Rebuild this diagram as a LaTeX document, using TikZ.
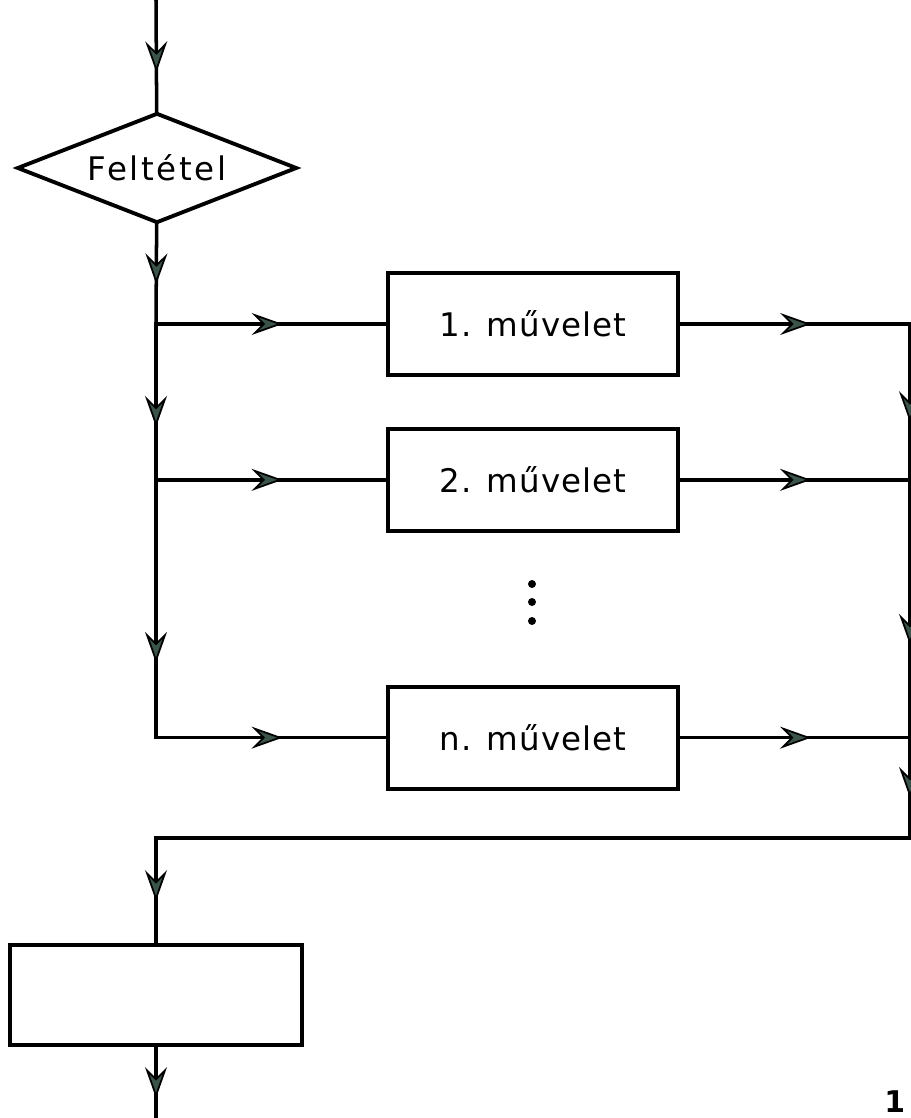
\documentclass[tikz,border=0pt]{standalone}
\usepackage{fontspec}
\newfontfamily\labelfont[LetterSpace=3]{DejaVu Sans}
\usetikzlibrary{positioning,shapes.geometric,arrows.meta,decorations.markings}
\definecolor{flowgreen}{RGB}{58,84,74}
\begin{document}
\begin{tikzpicture}[
  x=0.02cm, y=-0.02cm,
  line width=2pt, line cap=rect,
  block/.style={rectangle, draw, line width=2.2pt, minimum width=5.8cm, minimum height=2.04cm, font=\labelfont\fontsize{18.5}{22}\selectfont},
  decision/.style={diamond, draw, line width=2.2pt, aspect=2.5, minimum width=5.6cm, minimum height=2.2cm, inner sep=0pt, font=\labelfont\addfontfeature{LetterSpace=8}\fontsize{18.5}{22}\selectfont},
  flow/.style={postaction={decorate}, decoration={markings, mark=at position #1 with {\arrow{Stealth[length=6.2mm, width=4.4mm, inset=2.2mm, fill=flowgreen, line width=1pt]}}}},
  node distance=1cm
]
\useasboundingbox (0,0) rectangle (911,1118);

% Condition
\coordinate (top) at (156,0);
\node[decision] (cond) at (157,168) {Feltétel};

% Branches
\node[block] (op1) at (533,324) {1. művelet};
\node[block, below=of op1] (op2) {2. művelet};
\node[block, below=3.04cm of op2] (opn) {n. művelet};
\foreach \y in {584,602,621} \fill (532,\y) circle (4);

% Junctions
\coordinate (j1) at (156,324);
\coordinate (j2) at (j1 |- op2);
\coordinate (j3) at (j1 |- opn);
\coordinate (k1) at (910,324);
\coordinate (k2) at (k1 |- op2);
\coordinate (k3) at (k1 |- opn);
\coordinate (k4) at (910,838);
\coordinate (m) at (156,838);

% Next step
\node[block, minimum width=5.84cm, minimum height=2cm] (next) at (156,995) {};
\coordinate (out) at (156,1118);

% Arrows
\draw[flow=0.65] (top) -- (cond);
\draw[flow=0.6] (cond) -- (j1);
\draw[flow=0.66] (j1) -- (j2);
\draw[flow=0.71] (j2) -- (j3);
\draw[flow=0.55] (j1) -- (op1);
\draw[flow=0.55] (j2) -- (op2);
\draw[flow=0.55] (j3) -- (opn);
\draw[flow=0.57] (op1) -- (k1);
\draw[flow=0.57] (op2) -- (k2);
\draw[flow=0.57] (opn) -- (k3);
\draw[flow=0.63] (k1) -- (k2);
\draw[flow=0.64] (k2) -- (k3);
\draw[flow=0.6] (k3) -- (k4);
\draw (k4) -- (m);
\draw[flow=0.6] (m) -- (next);
\draw[flow=0.72] (next) -- (out);

% Page number
\node[font=\labelfont\bfseries\fontsize{17}{20}\selectfont, anchor=base east, inner sep=0pt] (page) at (907,1112) {1};

\end{tikzpicture}
\end{document}
